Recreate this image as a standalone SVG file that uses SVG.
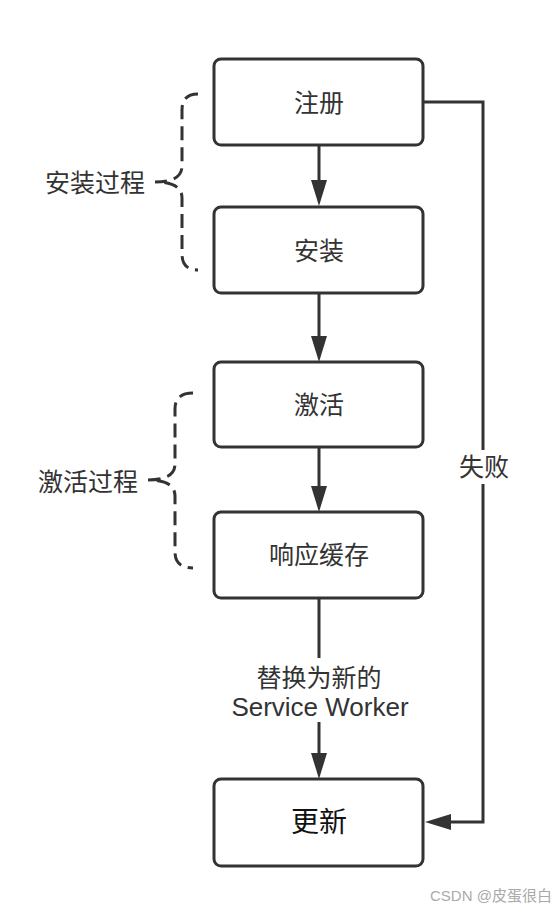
<svg xmlns="http://www.w3.org/2000/svg" width="552" height="914" viewBox="0 0 552 914">
<style>
.box{fill:#fff;stroke:#333;stroke-width:3}
.t{font-family:"Liberation Sans","Noto Sans CJK SC",sans-serif;font-size:25px;fill:#333;text-anchor:middle;dominant-baseline:central}
.big{font-size:28px;fill:#111}
.sw{font-size:26px}
.ln{fill:none;stroke:#333;stroke-width:3}
.br{fill:none;stroke:#333;stroke-width:3;stroke-dasharray:14 7}
.wm{font-family:"Liberation Sans","Noto Sans CJK SC",sans-serif;font-size:15px;fill:#aaa}
</style>
<defs>
<marker id="ah" markerUnits="userSpaceOnUse" markerWidth="28" markerHeight="18" refX="18" refY="8" orient="auto">
<path d="M0,0 L26,8 L0,16 Z" fill="#333"/>
</marker>
</defs>
<rect width="552" height="914" fill="#fff"/>
<g id="connectors">
<line class="ln" x1="319" y1="146" x2="319" y2="198" marker-end="url(#ah)"/>
<line class="ln" x1="319" y1="294" x2="319" y2="354" marker-end="url(#ah)"/>
<line class="ln" x1="319" y1="447" x2="319" y2="504" marker-end="url(#ah)"/>
<line class="ln" x1="319" y1="598" x2="319" y2="771" marker-end="url(#ah)"/>
<rect x="225" y="658" width="190" height="64" fill="#fff"/>
<text class="t" x="319" y="678">替换为新的</text>
<text class="t sw" x="320" y="707">Service Worker</text>
<path class="ln" d="M424,102 L483,102 L483,822 L433,822" marker-end="url(#ah)"/>
<rect x="456" y="450" width="56" height="34" fill="#fff"/>
<text class="t" x="484" y="467">失败</text>
</g>
<g id="brace-install">
<path class="br" d="M198,94 Q182,94 182,110 L182,166 Q182,182 155,182 Q182,182 182,198 L182,254 Q182,270 198,270"/>
<text class="t" x="95" y="183">安装过程</text>
</g>
<g id="brace-activate">
<path class="br" d="M193,393 Q175,393 175,409 L175,464 Q175,480 148,480 Q175,480 175,496 L175,552 Q175,568 193,568"/>
<text class="t" x="88" y="482">激活过程</text>
</g>
<g id="node-register">
<rect class="box" x="214" y="59" width="209" height="86" rx="7"/>
<text class="t" x="319" y="103">注册</text>
</g>
<g id="node-install">
<rect class="box" x="214" y="207" width="209" height="86" rx="7"/>
<text class="t" x="319" y="251">安装</text>
</g>
<g id="node-activate">
<rect class="box" x="214" y="362" width="209" height="85" rx="7"/>
<text class="t" x="319" y="405">激活</text>
</g>
<g id="node-cache">
<rect class="box" x="214" y="512" width="209" height="86" rx="7"/>
<text class="t" x="319" y="555">响应缓存</text>
</g>
<g id="node-update">
<rect class="box" x="214" y="779" width="209" height="87" rx="7"/>
<text class="t big" x="319" y="822">更新</text>
</g>
<text class="wm" x="430" y="901">CSDN @皮蛋很白</text>
</svg>
